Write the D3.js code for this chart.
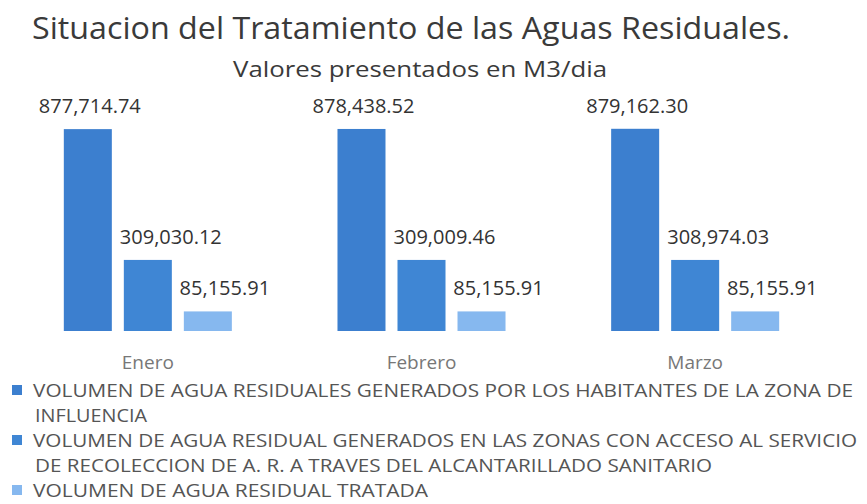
<!DOCTYPE html>
<html>
<head>
<meta charset="utf-8">
<script src="https://cdn.jsdelivr.net/npm/d3@7"></script>
<style>
  body { margin: 0; background: #fff; }
  text { font-family: "Open Sans", sans-serif; }
</style>
</head>
<body>
<div id="chart"></div>
<script>
// data (M3/dia)
const months = ["Enero", "Febrero", "Marzo"];
const seriesNames = [
  "VOLUMEN DE AGUA RESIDUALES GENERADOS POR LOS HABITANTES DE LA ZONA DE INFLUENCIA",
  "VOLUMEN DE AGUA RESIDUAL GENERADOS EN LAS ZONAS CON ACCESO AL SERVICIO DE RECOLECCION DE A. R. A TRAVES DEL ALCANTARILLADO SANITARIO",
  "VOLUMEN DE AGUA RESIDUAL TRATADA"
];
const generados = [877714.74, 878438.52, 879162.30];
const conAcceso = [309030.12, 309009.46, 308974.03];
const tratada = [85155.91, 85155.91, 85155.91];

// legend lines as wrapped in the original
const legendLines = [
  ["VOLUMEN DE AGUA RESIDUALES GENERADOS POR LOS HABITANTES DE LA ZONA DE", "INFLUENCIA"],
  ["VOLUMEN DE AGUA RESIDUAL GENERADOS EN LAS ZONAS CON ACCESO AL SERVICIO", "DE RECOLECCION DE A. R. A TRAVES DEL ALCANTARILLADO SANITARIO"],
  ["VOLUMEN DE AGUA RESIDUAL TRATADA"]
];
// widths of the scanned legend lines (the original font is Calibri)
const legendWidths = [[820, 112], [824, 677], [395]];

const width = 867;
const height = 504;
const colors = ["#3c7fcf", "#3f86d4", "#86b8ef"];
const labelShift = [2, 23, 17];

const allSeries = [generados, conAcceso, tratada];
const data = months.map((m, i) => ({
  month: m,
  values: allSeries.map((s, j) => ({ key: j, value: s[i] }))
}));

const svg = d3.select("#chart")
  .append("svg")
  .attr("width", width)
  .attr("height", height);

svg.append("rect").attr("width", width).attr("height", height).attr("fill", "#fff");

// fit a text element to a given width by adjusting its glyph spacing
function fit(sel, w) {
  sel.attr("textLength", w).attr("lengthAdjust", "spacingAndGlyphs");
}

svg.append("text")
  .attr("x", 32).attr("y", 39)
  .attr("font-size", 31)
  .attr("fill", "#3a3a3a")
  .text("Situacion del Tratamiento de las Aguas Residuales.")
  .call(fit, 758);

svg.append("text")
  .attr("x", 233).attr("y", 77)
  .attr("font-size", 22)
  .attr("fill", "#3a3a3a")
  .text("Valores presentados en M3/dia")
  .call(fit, 374);

const x0 = d3.scaleBand()
  .domain(months)
  .range([11, 832])
  .paddingInner(0.386)
  .paddingOuter(0.193);

const x1 = d3.scaleBand()
  .domain([0, 1, 2])
  .range([0, x0.bandwidth()])
  .paddingInner(0.2);

const y = d3.scaleLinear()
  .domain([0, 900000])
  .range([331, 124]);

const fmt = d3.format(",.2f");

const groups = svg.append("g")
  .selectAll("g")
  .data(data)
  .join("g")
  .attr("transform", d => `translate(${x0(d.month)},0)`);

groups.selectAll("rect")
  .data(d => d.values)
  .join("rect")
  .attr("x", d => x1(d.key))
  .attr("y", d => y(d.value))
  .attr("width", x1.bandwidth())
  .attr("height", d => y(0) - y(d.value))
  .attr("fill", d => colors[d.key]);

groups.selectAll("text.val")
  .data(d => d.values)
  .join("text")
  .attr("class", "val")
  .attr("x", d => x1(d.key) + x1.bandwidth() / 2 + labelShift[d.key])
  .attr("y", d => y(d.value) - 16)
  .attr("text-anchor", "middle")
  .attr("font-size", 20)
  .attr("fill", "#333")
  .text(d => fmt(d.value));

// category axis (no line, no ticks)
const xAxis = svg.append("g")
  .attr("transform", "translate(0,349)")
  .call(d3.axisBottom(x0).tickSize(0));
xAxis.select(".domain").remove();
xAxis.selectAll("text")
  .attr("font-family", "Open Sans, sans-serif")
  .attr("font-size", 19)
  .attr("fill", "#777")
  .attr("dy", "0.9em");

// legend
const legend = svg.append("g");
let row = 0;
legendLines.forEach((lines, i) => {
  const top = 397 + row * 25;
  legend.append("rect")
    .attr("x", 12).attr("y", top - 12)
    .attr("width", 10).attr("height", 10)
    .attr("fill", colors[i]);
  lines.forEach((ln, k) => {
    legend.append("text")
      .attr("x", k === 0 ? 33 : 35).attr("y", top + k * 25)
      .attr("font-size", 19)
      .attr("fill", "#555")
      .text(ln)
      .call(fit, legendWidths[i][k]);
    row++;
  });
});
</script>
</body>
</html>
